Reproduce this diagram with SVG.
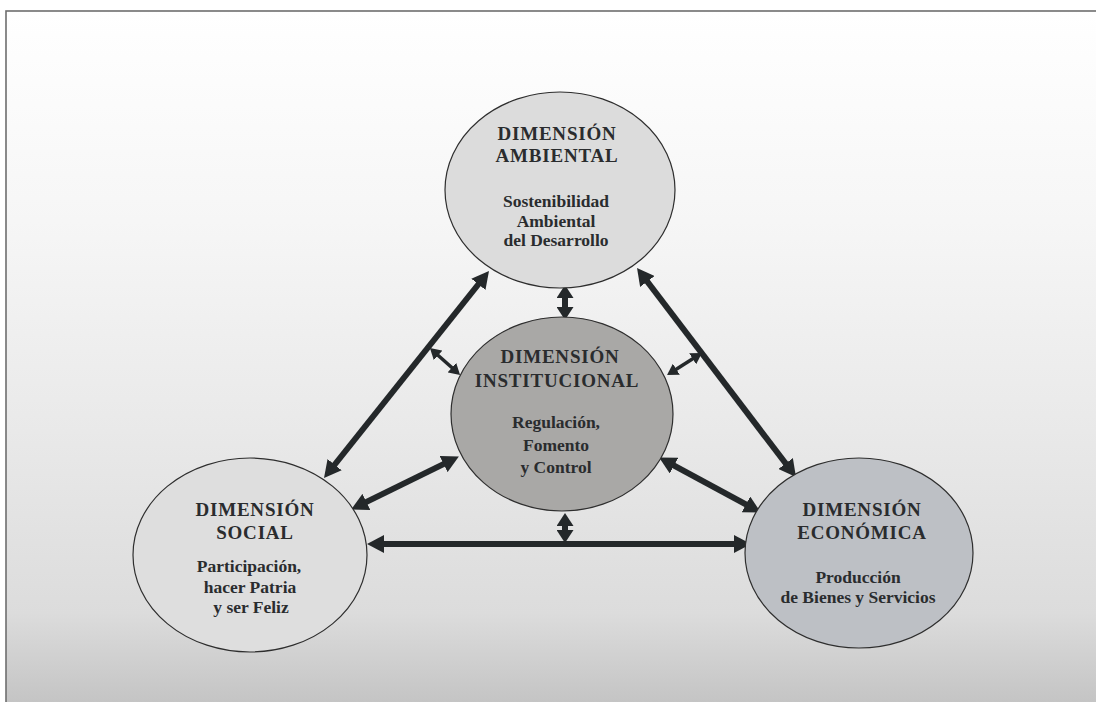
<svg xmlns="http://www.w3.org/2000/svg" width="1096" height="702" viewBox="0 0 1096 702">
  <defs>
    <linearGradient id="bg" x1="0" y1="0" x2="0" y2="1">
      <stop offset="0" stop-color="#ffffff"/>
      <stop offset="0.3" stop-color="#f6f6f6"/>
      <stop offset="0.6" stop-color="#e9e9e9"/>
      <stop offset="0.86" stop-color="#dcdcdc"/>
      <stop offset="1" stop-color="#c2c2c2"/>
    </linearGradient>
    <!-- arrowheads: base at refX, tip pointing along the line -->
    <marker id="headL" markerUnits="userSpaceOnUse" markerWidth="17" markerHeight="18" viewBox="0 0 17 18" refX="1" refY="9" orient="auto-start-reverse">
      <path d="M0,0 L17,9 L0,18 z" fill="#24282a"/>
    </marker>
    <marker id="headM" markerUnits="userSpaceOnUse" markerWidth="13" markerHeight="17" viewBox="0 0 13 17" refX="1" refY="8.5" orient="auto-start-reverse">
      <path d="M0,0 L13,8.5 L0,17 z" fill="#24282a"/>
    </marker>
    <marker id="headS" markerUnits="userSpaceOnUse" markerWidth="11" markerHeight="13" viewBox="0 0 11 13" refX="1" refY="6.5" orient="auto-start-reverse">
      <path d="M0,0 L11,6.5 L0,13 z" fill="#24282a"/>
    </marker>
  </defs>
  <style>
    .node ellipse { stroke: #2e2e2e; stroke-width: 1.2; }
    .title { font-family: "Liberation Serif", "Times New Roman", serif; font-weight: bold; font-size: 19px; letter-spacing: 0.8px; fill: #2a2c2e; text-anchor: middle; }
    .sub { font-family: "Liberation Serif", "Times New Roman", serif; font-weight: bold; font-size: 17.5px; fill: #2a2c2e; text-anchor: middle; }
    .main { stroke: #24282a; stroke-width: 6; fill: none; marker-start: url(#headL); marker-end: url(#headL); }
    .mid { stroke: #24282a; stroke-width: 6; fill: none; marker-start: url(#headM); marker-end: url(#headM); }
    .small { stroke: #24282a; stroke-width: 3.5; fill: none; marker-start: url(#headS); marker-end: url(#headS); }
  </style>

  <!-- page frame -->
  <rect x="0" y="0" width="1096" height="702" fill="#ffffff"/>
  <rect x="6" y="11" width="1100" height="700" fill="url(#bg)" stroke="#6e6e6e" stroke-width="1.6"/>

  <!-- connectors -->
  <g id="connectors">
    <!-- social <-> ambiental -->
    <line class="main" x1="334" y1="465.5" x2="479" y2="283.5"/>
    <!-- ambiental <-> economica -->
    <line class="main" x1="646.7" y1="280.7" x2="786.3" y2="464.3"/>
    <!-- social <-> economica -->
    <line class="main" x1="383" y1="544" x2="735" y2="544"/>
    <!-- institucional <-> social -->
    <line class="main" x1="444.5" y1="463.6" x2="365.5" y2="502.4"/>
    <!-- institucional <-> economica -->
    <line class="main" x1="673.2" y1="465.1" x2="746.8" y2="504.9"/>
    <!-- ambiental <-> institucional -->
    <line class="mid" x1="565" y1="297" x2="565" y2="308"/>
    <!-- institucional <-> social/economica link -->
    <line class="mid" x1="565" y1="525" x2="565" y2="531"/>
    <!-- institucional <-> left and right links -->
    <line class="small" x1="437.4" y1="354.7" x2="452.6" y2="368.3"/>
    <line class="small" x1="693.5" y1="358.3" x2="675.5" y2="369.7"/>
  </g>

  <g id="ambiental" class="node">
    <ellipse cx="560" cy="190" rx="115" ry="98" fill="#dcdcdc"/>
    <text class="title" x="557" y="140">DIMENSIÓN</text>
    <text class="title" x="557" y="162">AMBIENTAL</text>
    <text class="sub" x="556" y="207">Sostenibilidad</text>
    <text class="sub" x="556" y="227">Ambiental</text>
    <text class="sub" x="556" y="246">del Desarrollo</text>
  </g>

  <g id="institucional" class="node">
    <ellipse cx="562" cy="414" rx="111" ry="97" fill="#a9a8a6"/>
    <text class="title" x="560" y="363">DIMENSIÓN</text>
    <text class="title" x="557" y="387">INSTITUCIONAL</text>
    <text class="sub" x="556" y="428">Regulación,</text>
    <text class="sub" x="556" y="451">Fomento</text>
    <text class="sub" x="556" y="473">y Control</text>
  </g>

  <g id="social" class="node">
    <ellipse cx="250" cy="555" rx="117" ry="97" fill="#dedede"/>
    <text class="title" x="255" y="516">DIMENSIÓN</text>
    <text class="title" x="255" y="539">SOCIAL</text>
    <text class="sub" x="249" y="572">Participación,</text>
    <text class="sub" x="250" y="593">hacer Patria</text>
    <text class="sub" x="251" y="613">y ser Feliz</text>
  </g>

  <g id="economica" class="node">
    <ellipse cx="859" cy="553" rx="114" ry="95" fill="#bdc0c5"/>
    <text class="title" x="862" y="516">DIMENSIÓN</text>
    <text class="title" x="862" y="539">ECONÓMICA</text>
    <text class="sub" x="858" y="583">Producción</text>
    <text class="sub" x="858" y="603">de Bienes y Servicios</text>
  </g>
</svg>
